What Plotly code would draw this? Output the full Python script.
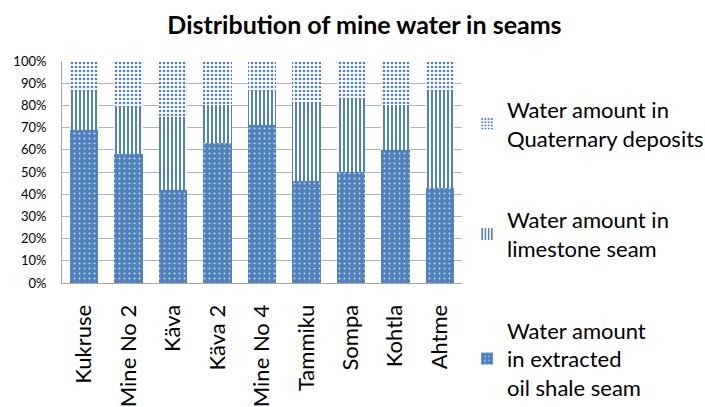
import plotly.graph_objects as go

mines = ["Kukruse", "Mine No 2", "Käva", "Käva 2", "Mine No 4",
         "Tammiku", "Sompa", "Kohtla", "Ahtme"]
oil_shale = [69, 58, 42, 63, 71, 46, 50, 60, 43]
limestone = [17, 21, 33, 17, 15, 35, 33, 20, 43]
quaternary = [14, 21, 25, 20, 14, 19, 17, 20, 14]

y_ticks = [i / 10 for i in range(11)]
y_tick_labels = [f"{i * 10}%" for i in range(11)]

BLUE = "#4f81bd"
FONT = "Lato, Open Sans, sans-serif"

fig = go.Figure()
fig.add_trace(go.Bar(
    x=mines, y=[v / 100 for v in oil_shale],
    name="Water amount<br>in extracted<br>oil shale seam",
    legendgroup="c", legendrank=3,
    marker=dict(color=BLUE, line=dict(width=0),
                pattern=dict(shape=".", fgcolor="#c9d7ec", bgcolor=BLUE,
                             size=5, solidity=0.12, fillmode="replace")),
))
fig.add_trace(go.Bar(
    x=mines, y=[v / 100 for v in limestone],
    name="Water amount in<br>limestone seam",
    legendgroup="b", legendrank=2,
    marker=dict(color=BLUE, line=dict(width=0),
                pattern=dict(shape="|", fgcolor=BLUE, bgcolor="white",
                             size=4, solidity=0.5, fillmode="replace")),
))
fig.add_trace(go.Bar(
    x=mines, y=[v / 100 for v in quaternary],
    name="Water amount in<br>Quaternary deposits",
    legendgroup="a", legendrank=1,
    marker=dict(color=BLUE, line=dict(width=0),
                pattern=dict(shape=".", fgcolor=BLUE, bgcolor="white",
                             size=4, solidity=0.35, fillmode="replace")),
))

fig.update_layout(
    width=705, height=407,
    barmode="stack",
    bargap=0.36,
    paper_bgcolor="white", plot_bgcolor="white",
    margin=dict(l=62, r=243, t=61, b=124, autoexpand=False),
    font=dict(family=FONT, color="black"),
    title=dict(text="<b>Distribution of mine water in seams</b>",
               x=0.517, xanchor="center", y=0.938, yanchor="middle",
               font=dict(size=25, family=FONT)),
    legend=dict(x=1.0125, xanchor="left", y=0.875, yanchor="top",
                traceorder="grouped", tracegroupgap=50, maxheight=400,
                font=dict(size=22, family=FONT),
                itemwidth=30, bgcolor="rgba(0,0,0,0)"),
    xaxis=dict(tickangle=-90, tickfont=dict(size=22, family=FONT),
               showline=True, linecolor="#a6a6a6", linewidth=1,
               ticks="", showgrid=False, ticklabelstandoff=12,
               automargin=False),
    yaxis=dict(range=[0, 1], tickvals=y_ticks, ticktext=y_tick_labels,
               tickfont=dict(size=13, family=FONT),
               showgrid=True, gridcolor="#b3b3b3", gridwidth=1,
               showline=True, linecolor="#a6a6a6", linewidth=1,
               ticks="", zeroline=False, ticklabelstandoff=12,
               automargin=False),
)

fig.write_html("out.html")
